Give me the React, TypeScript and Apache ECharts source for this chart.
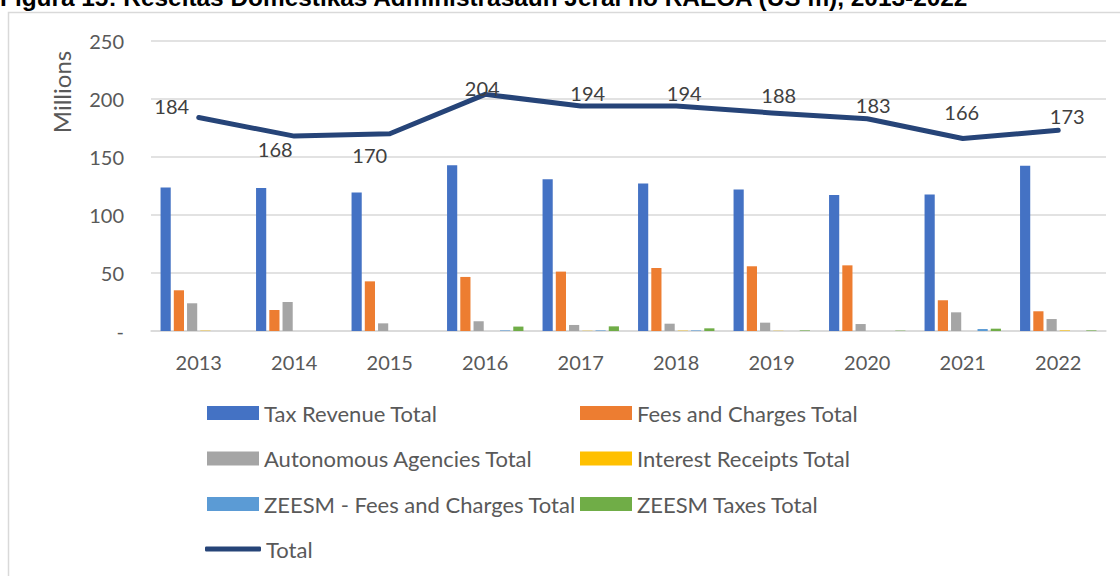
import React, { useEffect, useRef } from "react";
import * as echarts from "echarts";

const years = ["2013", "2014", "2015", "2016", "2017", "2018", "2019", "2020", "2021", "2022"];
const taxRevenue = [123.6, 123.3, 119.3, 142.8, 130.8, 127.1, 121.9, 117.2, 117.6, 142.5];
const feesCharges = [35.1, 18.1, 42.8, 46.6, 51.2, 54.3, 55.8, 56.6, 26.5, 17.0];
const autonomous = [23.9, 25.0, 6.6, 8.4, 5.2, 6.3, 7.2, 6.0, 16.1, 10.3];
const interest = [0.3, 0, 0, 0, 0.2, 0.3, 0.2, 0, 0, 0.5];
const zeesmFees = [0, 0, 0, 0.5, 0.5, 0.5, 0, 0, 1.7, 0];
const zeesmTaxes = [0, 0, 0, 3.8, 4.0, 2.3, 0.5, 0.3, 2.0, 0.5];
const total = [184, 168, 170, 204, 194, 194, 188, 183, 166, 173];
const totalLabelOffsets = [
  [-27, -12], [-19, 13], [-20, 21], [-3, -6], [7, -13],
  [8, -13], [7, -18], [6, -14], [-1, -26], [9, -14],
];
const yTicks = { min: 0, max: 250, interval: 50 };

const FONT = "Lato, 'Open Sans', sans-serif";
const TXT = "#595959";

export default function App() {
  const ref = useRef<HTMLDivElement>(null);
  useEffect(() => {
    if (!ref.current) return;
    const chart = echarts.init(ref.current, null, { renderer: "svg" });
    const bar = (name: string, data: number[], color: string) => ({
      name,
      type: "bar",
      data,
      barGap: "30%",
      barCategoryGap: "20%",
      itemStyle: { color },
    });
    const legendText = { color: TXT, fontSize: 22, fontFamily: FONT, lineHeight: 20 };
    chart.setOption({
      animation: false,
      backgroundColor: "#ffffff",
      textStyle: { fontFamily: FONT },
      grid: { left: 151, right: 14, top: 41, bottom: 245, containLabel: false },
      xAxis: {
        type: "category",
        data: years,
        axisLine: { lineStyle: { color: "#D9D9D9", width: 1.5 } },
        axisTick: { show: false },
        axisLabel: { color: TXT, fontSize: 20, fontFamily: FONT, margin: 21 },
      },
      yAxis: {
        type: "value",
        min: yTicks.min,
        max: yTicks.max,
        interval: yTicks.interval,
        axisLine: { show: false },
        axisTick: { show: false },
        splitLine: { lineStyle: { color: "#D9D9D9", width: 1.5 } },
        axisLabel: {
          color: TXT,
          fontSize: 20,
          fontFamily: FONT,
          margin: 27,
          formatter: (v: number) => (v === 0 ? "-" : String(v)),
        },
      },
      legend: [
        {
          orient: "vertical",
          left: 207,
          top: 402,
          padding: 0,
          itemWidth: 52,
          itemHeight: 14,
          itemGap: 23.5,
          icon: "rect",
          textStyle: legendText,
          data: ["Tax Revenue Total", "Autonomous Agencies Total", "ZEESM - Fees and Charges Total"],
        },
        {
          orient: "vertical",
          left: 580,
          top: 402,
          padding: 0,
          itemWidth: 52,
          itemHeight: 14,
          itemGap: 23.5,
          icon: "rect",
          textStyle: legendText,
          data: ["Fees and Charges Total", "Interest Receipts Total", "ZEESM Taxes Total"],
        },
        {
          orient: "vertical",
          left: 205,
          top: 538,
          padding: 0,
          itemWidth: 56,
          itemHeight: 5,
          icon: "roundRect",
          textStyle: legendText,
          data: ["Total"],
        },
      ],
      graphic: [
        {
          type: "rect",
          shape: { x: 8.5, y: 12.5, width: 1200, height: 700 },
          style: { fill: "none", stroke: "#D9D9D9", lineWidth: 1.5 },
          silent: true,
        },
        {
          type: "text",
          x: 0,
          y: -2.5,
          style: {
            text: "Figura 15: Reseitas Domestikas Administrasaun Jeral no RAEOA (US m), 2013-2022",
            fontFamily: "'Liberation Sans', Arial, sans-serif",
            fontWeight: "bold",
            fontSize: 24.4,
            fill: "#000000",
            verticalAlign: "middle",
            align: "left",
          },
        },
        {
          type: "text",
          x: 61,
          y: 92,
          rotation: Math.PI / 2,
          style: {
            text: "Millions",
            fontFamily: FONT,
            fontSize: 24,
            fill: TXT,
            align: "center",
            verticalAlign: "middle",
          },
        },
      ],
      series: [
        bar("Tax Revenue Total", taxRevenue, "#4472C4"),
        bar("Fees and Charges Total", feesCharges, "#ED7D31"),
        bar("Autonomous Agencies Total", autonomous, "#A5A5A5"),
        bar("Interest Receipts Total", interest, "#FFC000"),
        bar("ZEESM - Fees and Charges Total", zeesmFees, "#5B9BD5"),
        bar("ZEESM Taxes Total", zeesmTaxes, "#70AD47"),
        {
          name: "Total",
          type: "line",
          data: total.map((v, i) => ({
            value: v,
            label: { offset: totalLabelOffsets[i] },
          })),
          symbol: "circle",
          symbolSize: 1,
          showSymbol: true,
          lineStyle: { color: "#264478", width: 5, cap: "round", join: "round" },
          itemStyle: { color: "#264478" },
          z: 5,
          label: {
            show: true,
            position: "inside",
            color: "#404040",
            fontSize: 20,
            fontFamily: FONT,
          },
        },
      ],
    });
    return () => chart.dispose();
  }, []);
  return (
    <div
      ref={ref}
      style={{ position: "fixed", left: 0, top: 0, width: 1120, height: 576 }}
    />
  );
}
